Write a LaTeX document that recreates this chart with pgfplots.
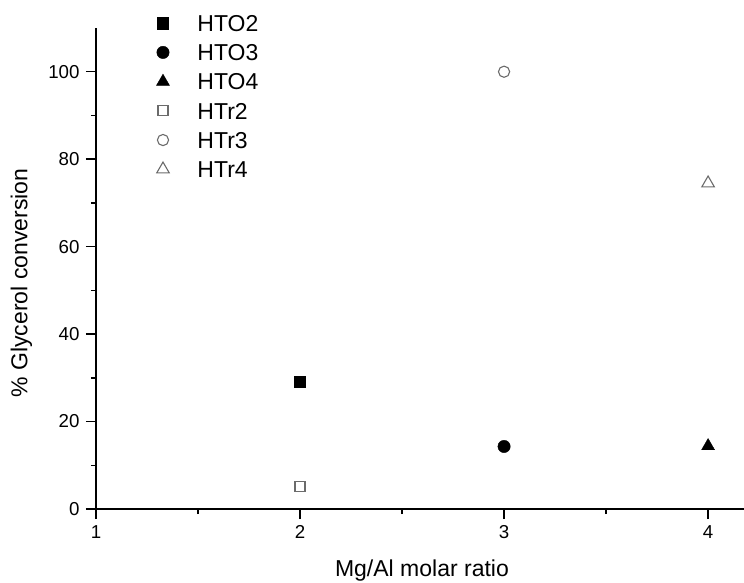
\documentclass[border=0pt]{standalone}
\usepackage{fontspec}
\setmainfont{Liberation Sans}
\usepackage{pgfplots}
\pgfplotsset{compat=1.18}

\definecolor{opengray}{gray}{0.42}

\begin{document}
\begin{tikzpicture}
\begin{axis}[
    name=ax,
    at={(0,0)}, anchor=south west,
    scale only axis,
    width=648bp, height=481bp,
    xmin=1, xmax=4.176,
    ymin=0, ymax=110,
    axis x line*=bottom,
    axis y line*=left,
    axis line style={line width=1.5bp},
    every tick/.style={line width=1.4bp, black},
    tick align=outside,
    major tick length=10bp,
    minor tick length=5bp,
    xtick={1,2,3,4},
    ytick={0,20,40,60,80,100},
    minor x tick num=1,
    minor y tick num=1,
    /pgf/number format/assume math mode=true,
    tick label style={font=\fontsize{18.7bp}{20bp}\selectfont},
    yticklabel style={xshift=-3bp},
    xticklabel style={yshift=-3bp},
    xlabel={Mg/Al molar ratio},
    ylabel={\% Glycerol conversion},
    label style={font=\fontsize{23bp}{26bp}\selectfont},
    xlabel style={at={(axis description cs:0.503,-0.128)}, anchor=center},
    ylabel style={at={(axis description cs:-0.115,0.47)}, anchor=center},
    clip=false,
    legend cell align=left,
    legend image code/.code={\draw[#1] plot coordinates {(0bp,0bp)};},
    legend style={
        draw=none, fill=none, inner sep=0pt, outer sep=0pt,
        at={(rel axis cs:0,1)}, xshift=60.5bp, yshift=13bp, anchor=north west,
        font=\fontsize{23bp}{26bp}\selectfont,
        nodes={inner sep=0pt, text height=16.5bp, text depth=0bp},
        row sep=12.7bp, column sep=28bp,
    },
]
\addplot[only marks, mark=square*, mark size=5.6bp, black] coordinates {(2,29.2)};
\addlegendentry{HTO2}
\addplot[only marks, mark=*, mark size=6.2bp, black] coordinates {(3,14.3)};
\addlegendentry{HTO3}
\addplot[only marks, mark=triangle*, mark size=7.5bp, black] coordinates {(4,14.4)};
\addlegendentry{HTO4}
\addplot[only marks, mark=square, mark size=5bp, opengray, line width=1.1bp] coordinates {(2,5.1)};
\addlegendentry{HTr2}
\addplot[only marks, mark=o, mark size=5.6bp, opengray, line width=1.1bp] coordinates {(3,100)};
\addlegendentry{HTr3}
\addplot[only marks, mark=triangle, mark size=7.2bp, opengray, line width=1.1bp] coordinates {(4,74.5)};
\addlegendentry{HTr4}
\end{axis}
\pgfresetboundingbox
\path (-96bp,-74bp) rectangle (648bp,509bp);
\end{tikzpicture}
\end{document}
